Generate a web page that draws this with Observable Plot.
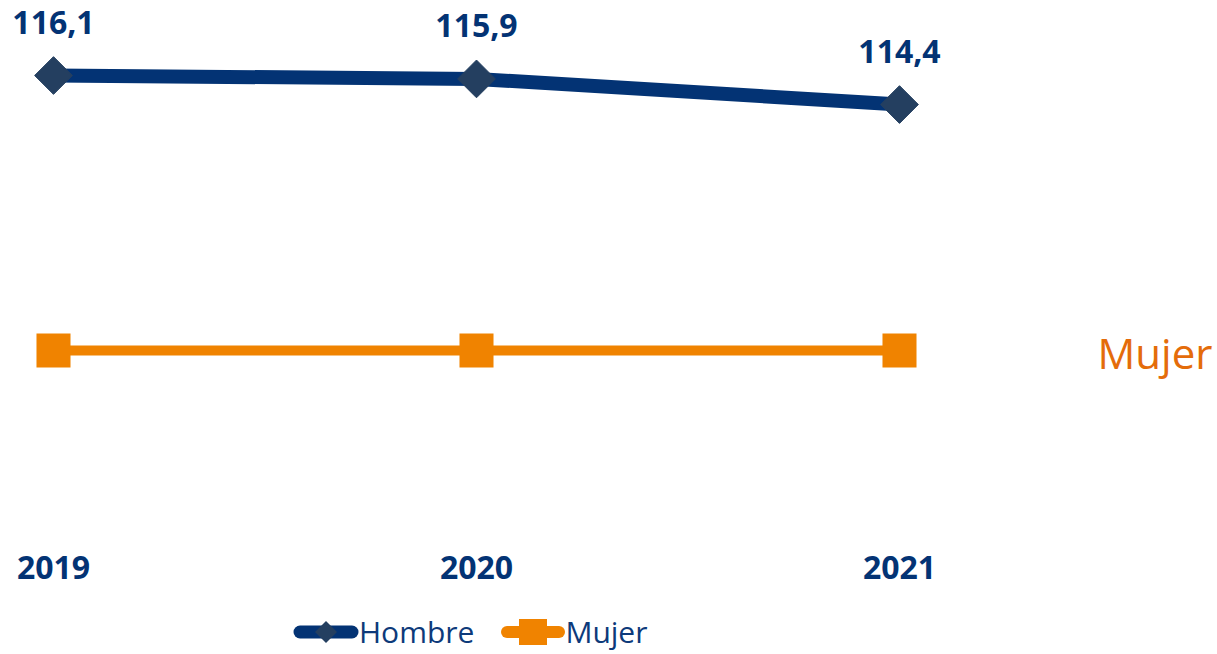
<!DOCTYPE html>
<html>
<head>
<meta charset="utf-8">
<script src="https://cdn.jsdelivr.net/npm/d3@7"></script>
<script src="https://cdn.jsdelivr.net/npm/@observablehq/plot@0.6"></script>
<style>
  html, body { margin: 0; padding: 0; background: #fff; overflow: hidden; }
  body { width: 1217px; height: 654px; font-family: "Open Sans", sans-serif; }
  #legend { display: flex; align-items: center; height: 40px; margin-top: 2px; padding-left: 293px; }
  .item { display: flex; align-items: center; font-size: 30px; line-height: 1; color: #0d3a7a; }
  .item svg { display: block; }
</style>
</head>
<body>
<div id="chart"></div>
<div id="legend"></div>
<script>
const years = ["2019", "2020", "2021"];
const hombre = [116.1, 115.9, 114.4];
const mujer = [100, 100, 100];
const hombreLabels = ["116,1", "115,9", "114,4"];
const seriesNames = ["Hombre", "Mujer"];

const navy = "#033374";
const slate = "#243f60";
const orange = "#f08300";

const dataH = years.map((year, i) => ({year, value: hombre[i], label: hombreLabels[i]}));
const dataM = years.map((year, i) => ({year, value: mujer[i]}));

const plot = Plot.plot({
  width: 1217,
  height: 610,
  marginLeft: 52,
  marginRight: 318,
  marginTop: 75,
  marginBottom: 260,
  style: {fontFamily: "'Open Sans', sans-serif", overflow: "visible"},
  x: {type: "point", domain: years, padding: 0},
  y: {domain: [100, 116.1], axis: null},
  marks: [
    Plot.axisX({tickSize: 0, tickPadding: 206, fontSize: 32, fontWeight: "bold", fill: navy, label: null}),
    Plot.line(dataM, {x: "year", y: "value", stroke: orange, strokeWidth: 10}),
    Plot.dot(dataM, {x: "year", y: "value", symbol: "square", r: 19.2, fill: orange}),
    Plot.line(dataH, {x: "year", y: "value", stroke: navy, strokeWidth: 14}),
    Plot.dot(dataH, {x: "year", y: "value", symbol: "diamond2", r: 17, fill: slate, stroke: slate, strokeWidth: 1}),
    Plot.text(dataH, {x: "year", y: "value", text: "label", dy: -52, fontSize: 32, fontWeight: "bold", fill: navy}),
    Plot.text(dataM.slice(-1), {x: "year", y: "value", text: () => seriesNames[1], textAnchor: "start", dx: 198, dy: 5, fontSize: 42, fill: "#e46c0a"})
  ]
});
document.getElementById("chart").appendChild(plot);

// Legend
const legend = d3.select("#legend");
const h = legend.append("div").attr("class", "item");
const hs = h.append("svg").attr("width", 66).attr("height", 30);
hs.append("line").attr("x1", 7).attr("x2", 59).attr("y1", 15).attr("y2", 15).attr("stroke", navy).attr("stroke-width", 13).attr("stroke-linecap", "round");
hs.append("path").attr("d", "M33,4 L44,15 L33,26 L22,15 Z").attr("fill", slate);
h.append("span").text(seriesNames[0]);
const m = legend.append("div").attr("class", "item").style("margin-left", "27px");
const ms = m.append("svg").attr("width", 64).attr("height", 30);
ms.append("line").attr("x1", 6).attr("x2", 58).attr("y1", 15).attr("y2", 15).attr("stroke", orange).attr("stroke-width", 12).attr("stroke-linecap", "round");
ms.append("rect").attr("x", 18).attr("y", 2).attr("width", 28).attr("height", 26).attr("fill", orange);
m.append("span").text(seriesNames[1]);
</script>
</body>
</html>
